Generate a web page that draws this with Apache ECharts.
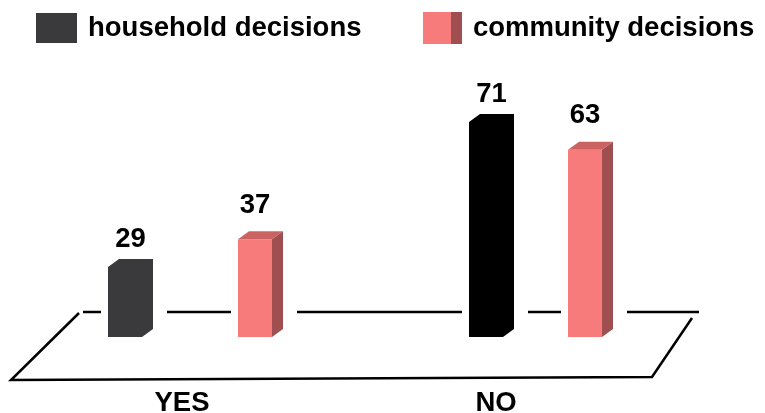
<!DOCTYPE html>
<html>
<head>
<meta charset="utf-8">
<script src="https://cdn.jsdelivr.net/npm/echarts@6/dist/echarts.min.js"></script>
<style>
  html, body { margin: 0; padding: 0; background: #fff; }
  #chart { width: 765px; height: 413px; }
</style>
</head>
<body>
<div id="chart"></div>
<script>
// Categories and values
const categories = ['YES', 'NO'];
const household = [29, 71];
const community = [37, 63];
const seriesNames = ['household decisions', 'community decisions'];

// Styling / layout constants
const FONT = "'Liberation Sans', Arial, sans-serif";
const FS = 27.5;
const householdFill = ['#3a3a3c', '#000000'];
const pinkFront = '#f87b7b';
const pinkTop = '#cc6363';
const pinkSide = '#a04f51';
const BAR_W = 34;     // front face width
const DEPTH_X = 11;   // oblique depth
const DEPTH_Y = 8;
const FLOOR_DROP = 22; // bars stand on the floor slightly above the axis zero
// front-left offset of each bar from its category centre, per category
const householdOffset = [-74, -27];
const communityOffset = [56, 72];

const chart = echarts.init(document.getElementById('chart'), null, { renderer: 'canvas' });

function makeRender(kind) {
  return function (params, api) {
    const i = api.value(0);
    const v = api.value(1);
    const top = api.coord([i, v]);
    const zero = api.coord([i, 0]);
    const offs = kind === 'household' ? householdOffset : communityOffset;
    const x0 = top[0] + offs[i];
    const yTop = top[1];
    const yBot = zero[1] - FLOOR_DROP;
    const W = BAR_W, dx = DEPTH_X, dy = DEPTH_Y;
    const children = [];
    // gap in the floor's back edge around the bar
    children.push({
      type: 'rect',
      shape: { x: x0 - 7, y: 305, width: W + dx + 21, height: 14 },
      style: { fill: '#ffffff' }
    });
    if (kind === 'household') {
      children.push({
        type: 'polygon',
        shape: { points: [
          [x0, yTop + dy], [x0 + dx, yTop], [x0 + W + dx, yTop],
          [x0 + W + dx, yBot - dy], [x0 + W, yBot], [x0, yBot]
        ] },
        style: { fill: householdFill[i] }
      });
      children.push({
        type: 'text',
        style: {
          text: String(v), x: x0 + (W + dx) / 2, y: yTop - 20,
          align: 'center', verticalAlign: 'middle',
          font: 'bold ' + FS + 'px ' + FONT, fill: '#000'
        }
      });
    } else {
      children.push({
        type: 'rect',
        shape: { x: x0, y: yTop + dy, width: W, height: yBot - yTop - dy },
        style: { fill: pinkFront }
      });
      children.push({
        type: 'polygon',
        shape: { points: [[x0, yTop + dy], [x0 + dx, yTop], [x0 + W + dx, yTop], [x0 + W, yTop + dy]] },
        style: { fill: pinkTop }
      });
      children.push({
        type: 'polygon',
        shape: { points: [[x0 + W, yTop + dy], [x0 + W + dx, yTop], [x0 + W + dx, yBot - dy], [x0 + W, yBot]] },
        style: { fill: pinkSide }
      });
      children.push({
        type: 'text',
        style: {
          text: String(v), x: x0 + W / 2, y: yTop - 26,
          align: 'center', verticalAlign: 'middle',
          font: 'bold ' + FS + 'px ' + FONT, fill: '#000'
        }
      });
    }
    return { type: 'group', children: children };
  };
}

const legendText = { fontSize: FS, fontWeight: 'bold', fontFamily: FONT, color: '#000', padding: [0, 0, 0, 6] };

const option = {
  animation: false,
  backgroundColor: '#ffffff',
  legend: [
    { data: [seriesNames[0]], left: 36, top: 13, padding: 0, icon: 'rect', itemWidth: 41, itemHeight: 30, textStyle: legendText, selectedMode: false },
    { data: [seriesNames[1]], left: 423, top: 12, padding: 0, icon: 'rect', itemWidth: 39, itemHeight: 32, textStyle: legendText, selectedMode: false }
  ],
  grid: { left: 25, right: 112, top: 83, bottom: 54, outerBoundsMode: 'none' },
  xAxis: {
    type: 'category',
    data: categories,
    axisLine: { show: false },
    axisTick: { show: false },
    axisLabel: { margin: 30, fontSize: FS, fontWeight: 'bold', fontFamily: FONT, color: '#000' }
  },
  yAxis: { type: 'value', min: 0, max: 80, show: false, splitLine: { show: false } },
  graphic: [
    // floor: back edge, left edge, front edge, right edge
    { type: 'line', z: 0, shape: { x1: 83, y1: 312, x2: 699, y2: 312 }, style: { stroke: '#000', lineWidth: 2.5 } },
    { type: 'polyline', z: 0, shape: { points: [[79, 313], [11, 380], [652, 377], [692, 318]] }, style: { stroke: '#000', lineWidth: 2.5, fill: null } }
  ],
  series: [
    {
      name: seriesNames[0],
      type: 'custom',
      z: 3,
      itemStyle: { color: householdFill[0] },
      encode: { x: 0, y: 1 },
      data: household.map((v, i) => [i, v]),
      renderItem: makeRender('household')
    },
    {
      name: seriesNames[1],
      type: 'custom',
      z: 3,
      itemStyle: {
        color: new echarts.graphic.LinearGradient(0, 0, 1, 0, [
          { offset: 0, color: pinkFront }, { offset: 0.72, color: pinkFront },
          { offset: 0.72, color: pinkSide }, { offset: 1, color: pinkSide }
        ])
      },
      encode: { x: 0, y: 1 },
      data: community.map((v, i) => [i, v]),
      renderItem: makeRender('community')
    }
  ]
};

chart.setOption(option);
</script>
</body>
</html>
